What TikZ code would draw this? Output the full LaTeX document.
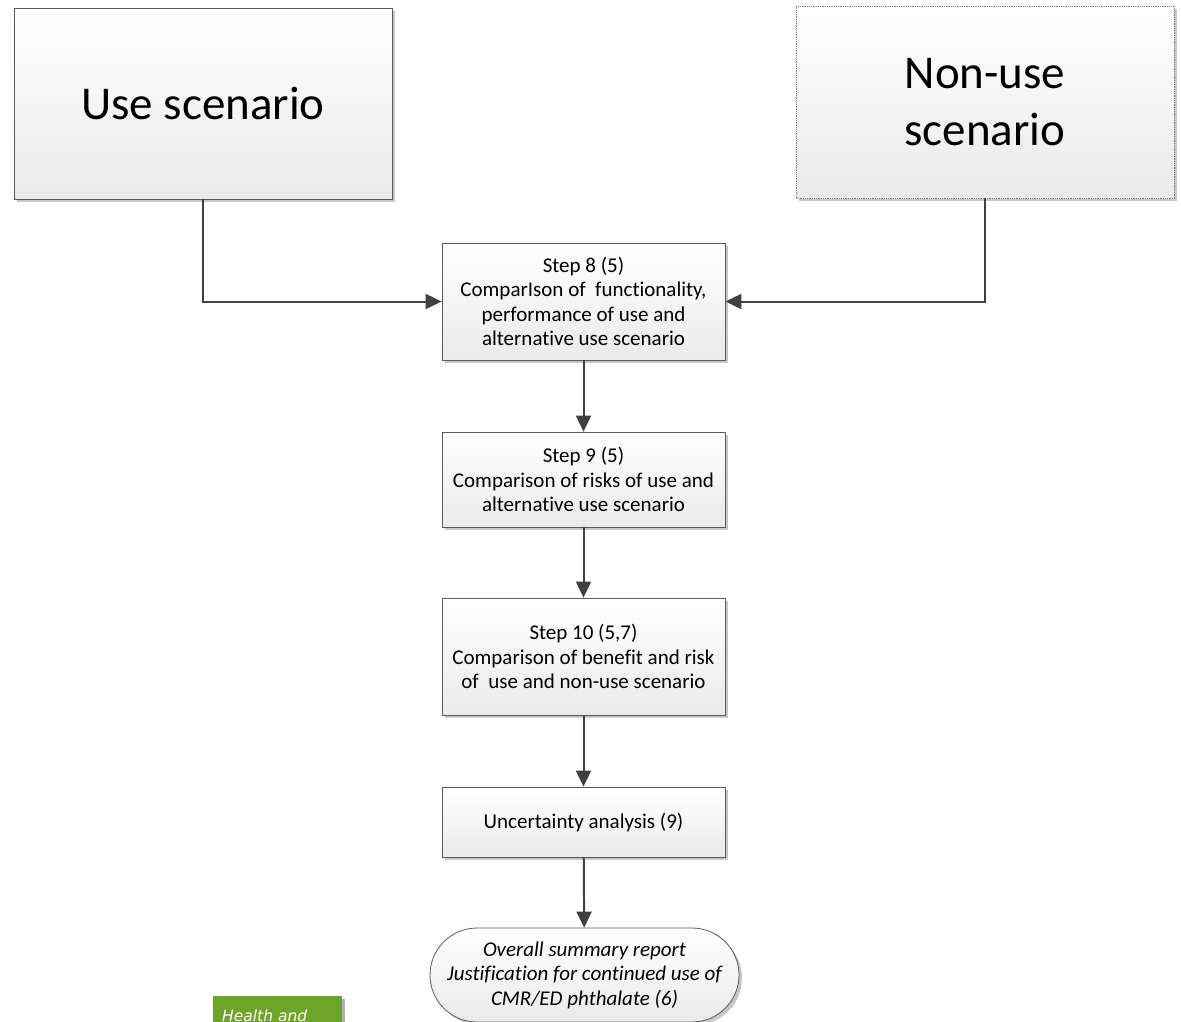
\documentclass[tikz,border=0pt]{standalone}
\usepackage{fontspec}
\setmainfont{Carlito}[Ligatures=NoCommon]
\newfontfamily\verd{DejaVu Sans}
\usetikzlibrary{arrows.meta,shadows,shapes.misc}
\definecolor{linec}{HTML}{404040}
\definecolor{boxborder}{HTML}{5A5A5A}
\definecolor{boxbottom}{HTML}{EAEAEA}
\definecolor{greenbox}{HTML}{6EA42A}
\tikzset{
  box/.style={draw=boxborder, line width=0.8pt, top color=white, bottom color=boxbottom,
    drop shadow={shadow xshift=3pt, shadow yshift=-3pt, fill=black!22, opacity=1},
    align=center, inner sep=2pt, font=\fontsize{21}{24.5}\selectfont},
  bigbox/.style={box, font=\fontsize{47}{57}\selectfont},
  conn/.style={draw=linec, line width=2pt, -{Triangle[width=15pt,length=16pt]}},
}
\begin{document}
\begin{tikzpicture}[x=1pt,y=-1pt]
\useasboundingbox (0,0) rectangle (1181,1021);
\fill[white] (0,0) rectangle (1181,1021);
\node[bigbox, minimum width=378pt, minimum height=191pt] (use) at (203,103.5) {Use scenario};
\node[bigbox, draw=boxborder!80, densely dotted, minimum width=378pt, minimum height=192pt] (non) at (985,102) {Non-use\\scenario};
\node[box, minimum width=283pt, minimum height=117pt] (s8) at (583.5,301.5) {Step 8 (5)\\ComparIson of\ \ functionality,\\performance of use and\\alternative use scenario};
\node[box, minimum width=283pt, minimum height=95pt] (s9) at (583.5,479.5) {Step 9 (5)\\Comparison of risks of use and\\alternative use scenario};
\node[box, minimum width=283pt, minimum height=117pt] (s10) at (583.5,656.5) {Step 10 (5,7)\\Comparison of benefit and risk\\of\ \ use and non-use scenario};
\node[box, minimum width=283pt, minimum height=70pt] (unc) at (583.5,822) {Uncertainty analysis (9)};
\node[box, rounded rectangle, minimum width=313pt, minimum height=94pt, font=\fontsize{21}{24.5}\selectfont\itshape] (sum) at (584.5,975) {Overall summary report\\Justification for continued use of\\CMR/ED phthalate (6)};
\draw[conn] (use.south) |- (s8.west);
\draw[conn] (non.south) |- (s8.east);
\draw[conn] (s8) -- (s9);
\draw[conn] (s9) -- (s10);
\draw[conn] (s10) -- (unc);
\draw[conn] (unc) -- (sum);
\fill[black!30] (342,999) rectangle (345,1030);
\fill[greenbox] (213,996) rectangle (342,1030);
\node[anchor=base west, inner sep=0pt, text=white, font=\verd\fontsize{15.5}{18}\selectfont\itshape] (hl) at (222,1021) {Health and};
\end{tikzpicture}
\end{document}
